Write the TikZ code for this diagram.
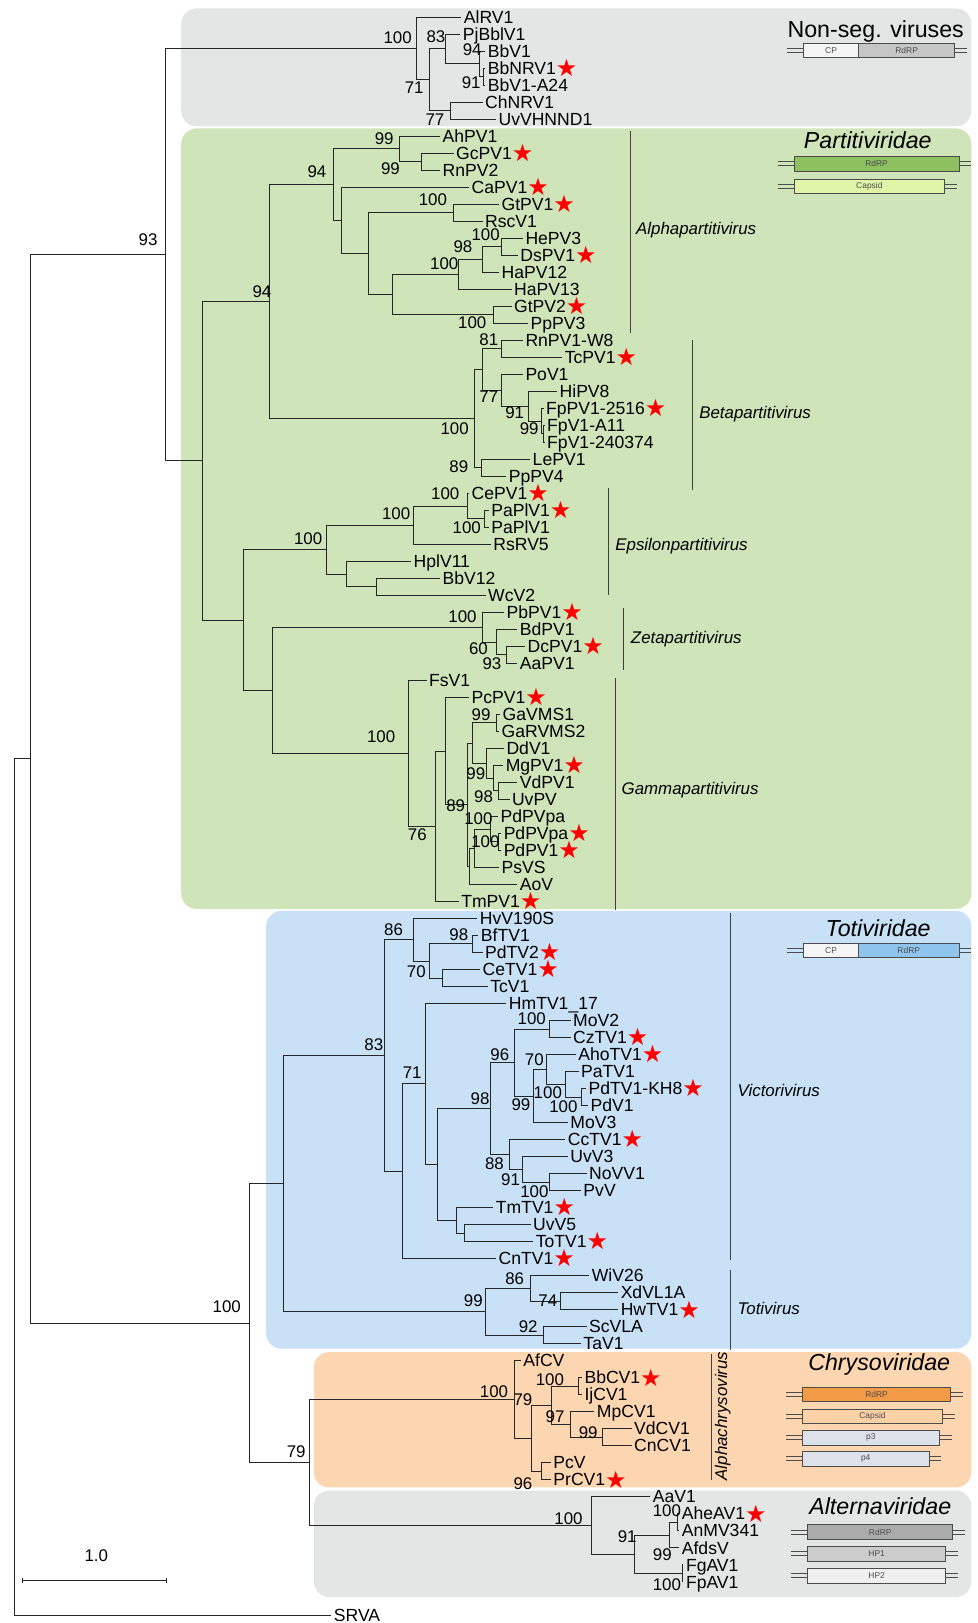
\documentclass[tikz,border=0pt]{standalone}
\usepackage{fontspec}
\setmainfont{Liberation Sans}
\newfontfamily\starfont{DejaVu Sans}

\definecolor{nsgray}{HTML}{E4E6E5}
\definecolor{partgreen}{HTML}{CFE4B9}
\definecolor{totiblue}{HTML}{C8E1F7}
\definecolor{chrysoorange}{HTML}{FCD6B0}
\definecolor{rdrpgreen}{HTML}{8DC05E}
\definecolor{capsidgreen}{HTML}{E0F5A8}
\definecolor{rdrpblue}{HTML}{8EC4EE}
\definecolor{rdrporange}{HTML}{F29A45}
\definecolor{capsidorange}{HTML}{FBD2A6}
\definecolor{pgray}{HTML}{DDE2EA}

\newcommand\redstar{{\starfont\fontsize{17}{17}\selectfont\raisebox{-1.5pt}{\textcolor{red}{★}}}}

\tikzset{
  branch/.style = {draw=black!85, line width=0.6pt},
  leafnode/.style = {anchor=west, inner xsep=1.6pt, inner ysep=0pt, text height=9pt, text depth=0pt, font=\fontsize{12.5}{14}\selectfont},
  bsnode/.style = {inner sep=0pt, font=\fontsize{12}{14}\selectfont},
  genusbar/.style = {draw=black!75, line width=0.6pt},
  genusname/.style = {anchor=west, inner sep=0pt, font=\fontsize{12}{14}\selectfont\itshape},
  famname/.style = {inner sep=0pt, font=\fontsize{16.5}{18}\selectfont\itshape},
  groupbox/.style = {rounded corners=11pt},
  genebox/.style = {draw=black!70, line width=0.5pt},
  genetext/.style = {inner sep=0pt, text=black!70, font=\fontsize{6}{7}\selectfont},
  geneend/.style = {draw=black!70, line width=0.5pt},
}

% gene bar: name, fill, x1, x2, row, text
\newcommand\genebar[6]{%
  \path[genebox, fill=#2] (#3,#5-.43) rectangle (#4,#5+.43);
  \node[genetext] (#1) at ({(#3+#4)/2},#5) {#6};}
% double strand ends: x1, x2, row
\newcommand\geneends[3]{%
  \draw[geneend] (#1-16,#3-.12) -- (#1,#3-.12) (#1-16,#3+.12) -- (#1,#3+.12)
    (#2,#3-.12) -- (#2+12,#3-.12) (#2,#3+.12) -- (#2+12,#3+.12);}

\begin{document}
\begin{tikzpicture}[x=0.025875cm, y=-0.425cm]
  \useasboundingbox (0,0) rectangle (944,95.43);

  % family boxes
  \fill[nsgray, groupbox] (175,0.49) rectangle (938,7.43);
  \fill[partgreen, groupbox] (175,7.55) rectangle (938,53.44);
  \fill[totiblue, groupbox] (257,53.56) rectangle (938,79.3);
  \fill[chrysoorange, groupbox] (303,79.5) rectangle (938,87.46);
  \fill[nsgray, groupbox] (303,87.64) rectangle (938,93.9);

  % internal nodes
  \foreach \nn/\xa/\ya in {root/13.5/44.6, nB/29/44.6, nC/160/14.97,
    nA/402/2.84, n71/414.8/4.69, n83/430/2.875, n94/462.6/3.75, n91/467/4.5, n77/435/6.5,
    nP/195.6/27.09, nP1/260/17.73, nAR/322/10.85, n99a/385.5/8.75, n99b/407/9.5,
    nAb/330/12.95, nAc/356/14.9, n100g/438/12.5, nAd/379/17.31, n100h/443/16.125,
    n98/466/15.25, n100i/484/14.5, n100p/476/18.5,
    nBR/458/24.61, nBe/466/21.72, n81/484/20.5, n77b/484/22.94, nBf/510/23.875,
    n91b/523/24.75, n99c/525/25.5, n89/465/27.5,
    nP2/235/36.45, nER/315/32.31, n100e/399/30.875, n100f/451/29.75, n100f2/467.7/30.5,
    nEh/335/33.75, nEi/363.3/34.5,
    nP3/263/40.58, nZR/466/36.875, n60/479/37.75, n93z/489/38.5,
    nGR/394/44.29, n76/420/48.58, nGX/430/44.16, nGY/451/47.3, nGZ1/456/43.69,
    n99g/479/42.5, nGZ1b/470/44.875, n99m/476/45.75, n98g/481.6/46.5,
    nGZ2/453.5/50.94, nGZ2a/458.5/49.875, n100p1/474/48.75, n100p2/481.6/49.5,
    n100/241/77.79, nTR/273.4/69.59, n83t/371/62.06, n86/399.3/55.25, n70t/414.8/56.5,
    n98t/456/55.5, nTce/427.6/57.5, nTc1/389/68.87, n71t/410.6/63.73, nTc2/422.5/68.46,
    n98v/474/65.17, n96/497/62.47, n100m/530.4/60.5, n99v/515/64.44, n70v/528/62.875,
    n100q/545.8/63.75, n100r/561/64.5, n88/492/67.875, n91t/504.7/68.75, n100n/530.4/69.5,
    nTm/440.5/71.75, nTuv/448/72.5, n99t/468.7/77.125, n86t/512.4/75.75, n74/540.7/76.5,
    n92/525/78.5,
    n79/299/85.98, n100c/497/82.28, n79c/513/84.56, nCb1/532/82.625, n100b/558.7/81.5,
    n97/551/83.75, n99c2/582/84.5, n96c/522.7/86.5,
    nAlR/571.5/89.69, n91a/612.6/91.375, n99a2/646/90.25, n100ah/653.7/89.5, n100fg/659/92.5}
    \coordinate (\nn) at (\xa,\ya);

  % leaves
  \foreach \nn/\xa/\ya/\ta in {alrv1/445.6/1/AlRV1, pjbblv1/444.6/2/PjBblV1, bbv1/468.7/3/BbV1,
    bbnrv1/468.7/4/{BbNRV1\redstar}, bbv1a24/468.7/5/BbV1-A24, chnrv1/466/6/ChNRV1,
    uvvhnnd1/479/7/UvVHNND1,
    ahpv1/425/8/AhPV1, gcpv1/438/9/{GcPV1\redstar}, rnpv2/425/10/RnPV2,
    capv1/453/11/{CaPV1\redstar}, gtpv1/482/12/{GtPV1\redstar}, rscv1/466/13/RscV1,
    hepv3/505/14/HePV3, dspv1/500/15/{DsPV1\redstar}, hapv12/482/16/HaPV12,
    hapv13/494/17/HaPV13, gtpv2/494/18/{GtPV2\redstar}, pppv3/510/19/PpPV3,
    rnpv1w8/505/20/RnPV1-W8, tcpv1/543/21/{TcPV1\redstar}, pov1/505/22/PoV1,
    hipv8/538/23/HiPV8, fppv1/525/24/{FpPV1-2516\redstar}, fpv1a11/526/25/FpV1-A11,
    fpv1b/526/26/FpV1-240374, lepv1/512/27/LePV1, pppv4/489/28/PpPV4,
    cepv1/453/29/{CePV1\redstar}, papl1/472/30/{PaPlV1\redstar}, papl2/472/31/PaPlV1,
    rsrv5/474/32/RsRV5, hplv11/397/33/HplV11, bbv12/425/34/BbV12, wcv2/469/35/WcV2,
    pbpv1/486.7/36/{PbPV1\redstar}, bdpv1/499.6/37/BdPV1, dcpv1/507/38/{DcPV1\redstar},
    aapv1/499.6/39/AaPV1, fsv1/412/40/FsV1, pcpv1/453/41/{PcPV1\redstar},
    gavms1/483/42/GaVMS1, garvms2/482/43/GaRVMS2, ddv1/486.7/44/DdV1,
    mgpv1/486/45/{MgPV1\redstar}, vdpv1/499.6/46/VdPV1, uvpv/492/47/UvPV,
    pdpva1/481/48/PdPVpa, pdpva2/484/49/{PdPVpa\redstar}, pdpv1/484/50/{PdPV1\redstar},
    psvs/482/51/PsVS, aov/499.6/52/AoV, tmpv1/443/53/{TmPV1\redstar},
    hvv190s/461/54/HvV190S, bftv1/462/55/BfTV1, pdtv2/466/56/{PdTV2\redstar},
    cetv1/463.6/57/{CeTV1\redstar}, tcv1/471/58/TcV1, hmtv1/489/59/HmTV1\_17,
    mov2/551/60/MoV2, cztv1/551/61/{CzTV1\redstar}, ahotv1/556/62/{AhoTV1\redstar},
    patv1/558.7/63/PaTV1, pdtv1kh8/566/64/{PdTV1-KH8\redstar}, pdv1/568/65/PdV1,
    mov3/548.4/66/MoV3, cctv1/546/67/{CcTV1\redstar}, uvv3/548.4/68/UvV3,
    novv1/566.4/69/NoVV1, pvv/561/70/PvV, tmtv1/476.4/71/{TmTV1\redstar},
    uvv5/512.4/72/UvV5, totv1/515/73/{ToTV1\redstar}, cntv1/479/74/{CnTV1\redstar},
    wiv26/569/75/WiV26, xdvl1a/597/76/XdVL1A, hwtv1/597/77/{HwTV1\redstar},
    scvla/566.4/78/ScVLA, tav1/561/79/TaV1,
    afcv/503/80/AfCV, bbcv1/562/81/{BbCV1\redstar}, ijcv1/562/82/IjCV1, mpcv1/574/83/MpCV1,
    vdcv1/610/84/VdCV1, cncv1/610/85/CnCV1, pcv/532/86/PcV, prcv1/532/87/{PrCV1\redstar},
    aav1/628/88/AaV1, aheav1/656/89/{AheAV1\redstar}, anmv341/656/90/AnMV341,
    afdsv/656/91/AfdsV, fgav1/660/92/FgAV1, fpav1/660/93/FpAV1, srva/320/94.97/SRVA}
    \node[leafnode] (\nn) at (\xa,\ya) {\ta};

  % branches
  \foreach \pa/\ch in {root/nB, root/srva, nB/nC, nB/n100, nC/nA, nC/nP,
    nA/alrv1, nA/n71, n71/n83, n71/n77, n83/pjbblv1, n83/n94, n94/bbv1, n94/n91,
    n91/bbnrv1, n91/bbv1a24, n77/chnrv1, n77/uvvhnnd1,
    nP/nP1, nP/nP2, nP1/nAR, nP1/nBR, nAR/n99a, nAR/nAb, n99a/ahpv1, n99a/n99b,
    n99b/gcpv1, n99b/rnpv2, nAb/capv1, nAb/nAc, nAc/n100g, nAc/nAd,
    n100g/gtpv1, n100g/rscv1, nAd/n100h, nAd/n100p, n100h/n98, n100h/hapv13,
    n98/n100i, n98/hapv12, n100i/hepv3, n100i/dspv1, n100p/gtpv2, n100p/pppv3,
    nBR/nBe, nBR/n89, nBe/n81, nBe/n77b, n81/rnpv1w8, n81/tcpv1, n77b/pov1, n77b/nBf,
    nBf/hipv8, nBf/n91b, n91b/fppv1, n91b/n99c, n99c/fpv1a11, n99c/fpv1b,
    n89/lepv1, n89/pppv4,
    nP2/nER, nP2/nP3, nER/n100e, nER/nEh, n100e/n100f, n100e/rsrv5,
    n100f/cepv1, n100f/n100f2, n100f2/papl1, n100f2/papl2, nEh/hplv11, nEh/nEi,
    nEi/bbv12, nEi/wcv2,
    nP3/nZR, nP3/nGR, nZR/pbpv1, nZR/n60, n60/bdpv1, n60/n93z, n93z/dcpv1, n93z/aapv1,
    nGR/fsv1, nGR/n76, n76/nGX, n76/tmpv1, nGX/pcpv1, nGX/nGY, nGY/nGZ1, nGY/nGZ2,
    nGZ1/n99g, nGZ1/nGZ1b, n99g/gavms1, n99g/garvms2, nGZ1b/ddv1, nGZ1b/n99m,
    n99m/mgpv1, n99m/n98g, n98g/vdpv1, n98g/uvpv, nGZ2/nGZ2a, nGZ2/aov,
    nGZ2a/n100p1, nGZ2a/psvs, n100p1/pdpva1, n100p1/n100p2, n100p2/pdpva2, n100p2/pdpv1,
    n100/nTR, n100/n79, nTR/n83t, nTR/n99t, n83t/n86, n83t/nTc1,
    n86/hvv190s, n86/n70t, n70t/n98t, n70t/nTce, n98t/bftv1, n98t/pdtv2,
    nTce/cetv1, nTce/tcv1, nTc1/n71t, nTc1/cntv1, n71t/hmtv1, n71t/nTc2,
    nTc2/n98v, nTc2/nTm, n98v/n96, n98v/n88, n96/n100m, n96/n99v,
    n100m/mov2, n100m/cztv1, n99v/n70v, n99v/mov3, n70v/ahotv1, n70v/n100q,
    n100q/patv1, n100q/n100r, n100r/pdtv1kh8, n100r/pdv1,
    n88/cctv1, n88/n91t, n91t/uvv3, n91t/n100n, n100n/novv1, n100n/pvv,
    nTm/tmtv1, nTm/nTuv, nTuv/uvv5, nTuv/totv1,
    n99t/n86t, n99t/n92, n86t/wiv26, n86t/n74, n74/xdvl1a, n74/hwtv1, n92/scvla, n92/tav1,
    n79/n100c, n79/nAlR, n100c/afcv, n100c/n79c, n79c/nCb1, n79c/n96c,
    nCb1/n100b, nCb1/n97, n100b/bbcv1, n100b/ijcv1, n97/mpcv1, n97/n99c2,
    n99c2/vdcv1, n99c2/cncv1, n96c/pcv, n96c/prcv1,
    nAlR/aav1, nAlR/n91a, n91a/n99a2, n91a/n100fg, n99a2/n100ah, n99a2/afdsv,
    n100ah/aheav1, n100ah/anmv341, n100fg/fgav1, n100fg/fpav1}
    \draw[branch] (\pa) |- (\ch);

  % bootstrap values
  \foreach \nn/\xa/\ya/\ta in {s1/384/2.19/100, s2/421/2.13/83, s3/456/2.92/94, s4/455/4.87/91,
    s5/400/5.17/71, s6/420/7.06/77, s7/143/14.12/93, s8/219/76.81/100, s9/286/85.37/79,
    s10/253/17.16/94, s11/306/10.1/94, s12/371/8.14/99, s13/377/9.9/99, s14/418/11.75/100,
    s15/469/13.82/100, s16/447/14.51/98, s17/429/15.51/100, s18/456/18.99/100,
    s19/472/19.99/81, s20/472/23.31/77, s21/497/24.28/91, s22/511/25.2/99,
    s23/439/25.2/100, s24/443/27.45/89, s25/430/29.01/100, s26/382.5/30.19/100,
    s27/450.7/31.04/100, s28/297.6/31.65/100, s29/446.6/36.27/100, s30/462/38.12/60,
    s31/475/39.01/93, s32/368/43.32/100, s33/464.6/42.05/99, s34/459.5/45.47/99,
    s35/467/46.87/98, s36/440/47.35/89, s37/462/48.13/100, s38/403/49.1/76,
    s39/468.7/49.5/100, s40/380/54.69/86, s41/443/54.96/98, s42/402/57.14/70,
    s43/361/61.45/83, s44/398/63.1/71, s45/513.5/59.88/100, s46/482.6/62.02/96,
    s47/516/62.32/70, s48/463.6/64.58/98, s49/529/64.27/100, s50/503/64.94/99,
    s51/544/65.06/100, s52/477.5/68.41/88, s53/493/69.39/91, s54/516/70.08/100,
    s55/497/75.17/86, s56/529/76.45/74, s57/457/76.45/99, s58/510/78.02/92,
    s59/477/81.84/100, s60/531/81.13/100, s61/505/82.3/79, s62/536/83.31/97,
    s63/568/84.21/99, s64/505/87.22/96, s65/549/89.29/100, s66/644/88.8/100,
    s67/605.6/90.36/91, s68/639.6/91.44/99, s69/644/93.18/100}
    \node[bsnode] (\nn) at (\xa,\ya) {\ta};

  % genus bars
  \draw[genusbar] (609,7.73) -- (609,19.6);
  \draw[genusbar] (669,20) -- (669,28.8);
  \draw[genusbar] (588,28.7) -- (588,35);
  \draw[genusbar] (602,35.77) -- (602,39.4);
  \draw[genusbar] (594,39.89) -- (594,53.5);
  \draw[genusbar] (705,53.68) -- (705,74.07);
  \draw[genusbar] (705,74.68) -- (705,79.37);
  \draw[genusbar] (687,79.59) -- (687,87.04);
  \node[genusname] (alpha) at (614,13.51) {Alphapartitivirus};
  \node[genusname] (beta) at (675,24.35) {Betapartitivirus};
  \node[genusname] (epsilon) at (594,32.14) {Epsilonpartitivirus};
  \node[genusname] (zeta) at (609,37.6) {Zetapartitivirus};
  \node[genusname] (gamma) at (600,46.44) {Gammapartitivirus};
  \node[genusname] (victori) at (712,64.09) {Victorivirus};
  \node[genusname] (totivir) at (712,76.93) {Totivirus};
  \node[genusname, anchor=center, rotate=90] (alphachryso) at (698,83.26) {Alphachrysovirus};

  % family names
  \node[famname, font=\fontsize{16.5}{18}\selectfont, anchor=east] (nonseg) at (931,1.83) {Non-seg. viruses};
  \node[famname] (partiti) at (838,8.22) {Partitiviridae};
  \node[famname] (toti) at (848,54.6) {Totiviridae};
  \node[famname] (chryso) at (849,80.22) {Chrysoviridae};
  \node[famname] (alterna) at (850,88.56) {Alternaviridae};

  % genome organisation
  \geneends{776}{922}{2.97}
  \genebar{nscp}{gray!8}{776}{829}{2.97}{CP}
  \genebar{nsrdrp}{gray!45}{829}{922}{2.97}{RdRP}
  \geneends{767}{926}{9.62}
  \genebar{ptrdrp}{rdrpgreen}{767}{926}{9.62}{RdRP}
  \geneends{767}{912}{10.96}
  \genebar{ptcapsid}{capsidgreen}{767}{912}{10.96}{Capsid}
  \geneends{776}{926}{55.87}
  \genebar{ttcp}{gray!8}{776}{829}{55.87}{CP}
  \genebar{ttrdrp}{rdrpblue}{829}{926}{55.87}{RdRP}
  \geneends{775}{918}{81.98}
  \genebar{chrdrp}{rdrporange}{775}{918}{81.98}{RdRP}
  \geneends{775}{910}{83.28}
  \genebar{chcapsid}{capsidorange}{775}{910}{83.28}{Capsid}
  \geneends{775}{907}{84.53}
  \genebar{chpthree}{pgray}{775}{907}{84.53}{p3}
  \geneends{775}{897}{85.77}
  \genebar{chpfour}{pgray}{775}{897}{85.77}{p4}
  \geneends{780}{920}{90.08}
  \genebar{alrdrp}{gray!65}{780}{920}{90.08}{RdRP}
  \geneends{780}{913}{91.36}
  \genebar{alhpone}{gray!40}{780}{913}{91.36}{HP1}
  \geneends{780}{913}{92.64}
  \genebar{alhptwo}{gray!12}{780}{913}{92.64}{HP2}

  % scale bar
  \coordinate (sbl) at (22,92.94);
  \coordinate (sbr) at (161,92.94);
  \draw[branch] (sbl) -- (sbr) (sbl) ++(0,-.15) -- ++(0,.3) (sbr) ++(0,-.15) -- ++(0,.3);
  \node[bsnode] (sblabel) at (93,91.48) {1.0};
\end{tikzpicture}
\end{document}
